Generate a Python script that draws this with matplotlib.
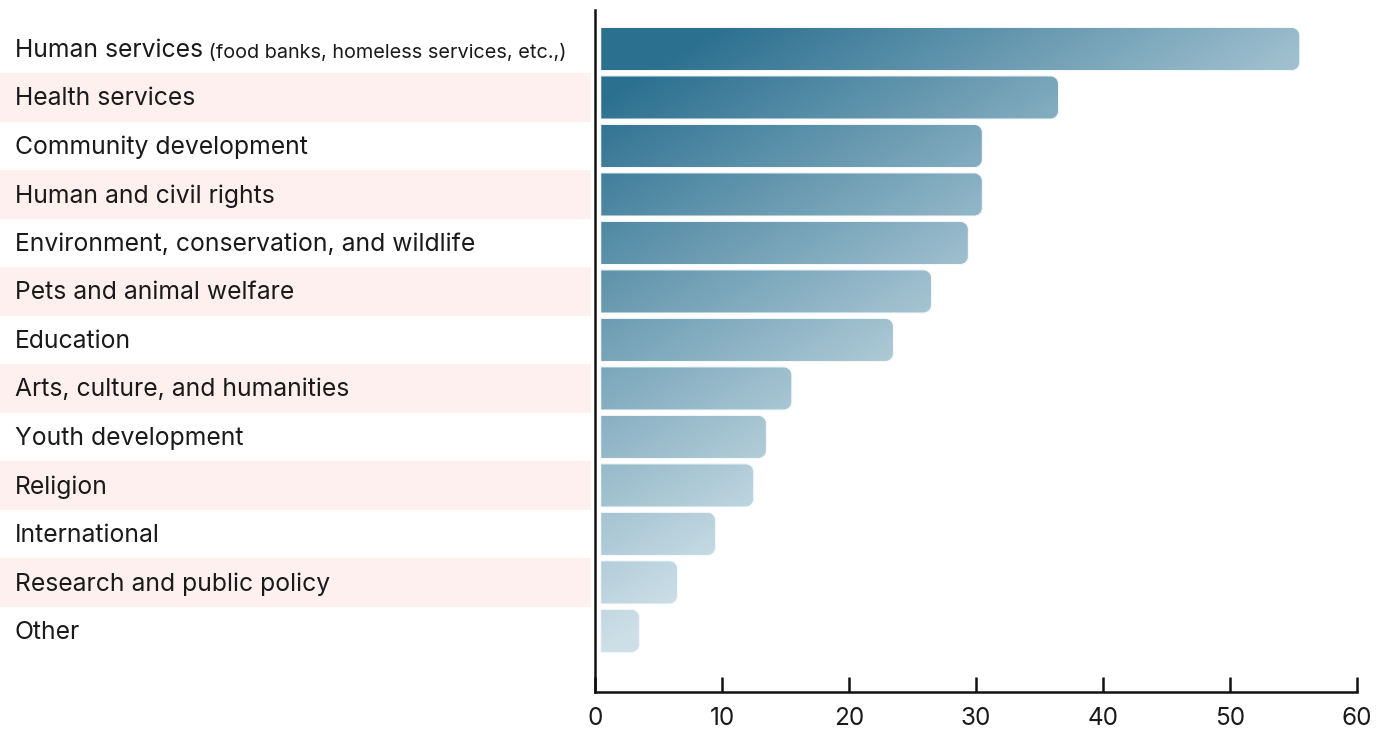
import numpy as np
import matplotlib
matplotlib.use("Agg")
import matplotlib.pyplot as plt
from matplotlib.path import Path
from matplotlib.patches import PathPatch, Rectangle
from matplotlib.transforms import blended_transform_factory
from matplotlib.colors import to_rgb

plt.rcParams['font.family'] = ['Inter', 'DejaVu Sans']

categories = ["Human services", "Health services", "Community development",
              "Human and civil rights", "Environment, conservation, and wildlife",
              "Pets and animal welfare", "Education", "Arts, culture, and humanities",
              "Youth development", "Religion", "International",
              "Research and public policy", "Other"]
sub_note = "(food banks, homeless services, etc.,)"
values = [55.5, 36.5, 30.5, 30.5, 29.4, 26.5, 23.5, 15.5, 13.5, 12.5, 9.5, 6.5, 3.5]
xticks = [0, 10, 20, 30, 40, 50, 60]

W, H = 1385, 732
fig = plt.figure(figsize=(W / 100, H / 100), dpi=100)
ax = fig.add_axes([595 / W, 1 - 692 / H, (1357 - 595) / W, (692 - 10) / H])

n = len(categories)
ylo, yhi = 13.26, -0.804
ax.set_xlim(0, 60)
ax.set_ylim(ylo, yhi)

dark = np.array(to_rgb("#2c7090"))
light = np.array(to_rgb("#cddfe7"))

px_x = (1357 - 595) / 60.0
px_y = (692 - 10) / (ylo - yhi)
r = 8.0
rx, ry = r / px_x, r / px_y
k = 0.5523
bar_h = 0.89
x0 = 0.45

def bar_path(x0, x1, yc, h):
    y0, y1 = yc - h / 2, yc + h / 2
    verts = [(x0, y0), (x1 - rx, y0),
             (x1 - rx + k * rx, y0), (x1, y0 + ry - k * ry), (x1, y0 + ry),
             (x1, y1 - ry),
             (x1, y1 - ry + k * ry), (x1 - rx + k * rx, y1), (x1 - rx, y1),
             (x0, y1), (x0, y0)]
    codes = [Path.MOVETO, Path.LINETO,
             Path.CURVE4, Path.CURVE4, Path.CURVE4,
             Path.LINETO,
             Path.CURVE4, Path.CURVE4, Path.CURVE4,
             Path.LINETO, Path.CLOSEPOLY]
    return Path(verts, codes)

blend = blended_transform_factory(fig.transFigure, ax.transData)

for i, (cat, v) in enumerate(zip(categories, values)):
    if i % 2 == 1:
        rect = Rectangle((0, i - 0.5), 591 / W, 1.0, transform=blend,
                         facecolor="#fff0f0", edgecolor="none", clip_on=False, zorder=0)
        fig.add_artist(rect)
    t1 = ax.text(15 / W, i + 0.03, cat, transform=blend, fontsize=17.8, va="center",
                 ha="left", color="#1a1a1a")
    if i == 0:
        ax.annotate(" " + sub_note, xy=(1, 0), xycoords=t1, fontsize=14.3,
                    va="bottom", ha="left", color="#1a1a1a")

    path = bar_path(x0, v, i, bar_h)
    patch = PathPatch(path, facecolor="none", edgecolor="#f4f8fa", lw=0.8, zorder=3)
    ax.add_patch(patch)
    xs = np.linspace(x0, v, 300)
    ys = np.linspace(i - bar_h / 2, i + bar_h / 2, 40)
    X, Y = np.meshgrid(xs, ys)
    t = np.clip(-0.1 + 0.0145 * X + 0.088 * Y, 0, 1)
    img = dark[None, None, :] * (1 - t[..., None]) + light[None, None, :] * t[..., None]
    im = ax.imshow(img, extent=(x0, v, i + bar_h / 2, i - bar_h / 2), aspect="auto",
                   origin="upper", interpolation="bilinear", zorder=2)
    im.set_clip_path(patch)

ax.set_xlim(0, 60)
ax.set_ylim(ylo, yhi)

for s in ["top", "right"]:
    ax.spines[s].set_visible(False)
for s in ["left", "bottom"]:
    ax.spines[s].set_linewidth(1.8)
    ax.spines[s].set_color("#111111")
ax.set_yticks([])
ax.set_xticks(xticks)
ax.set_xticklabels([str(x) for x in xticks])
ax.tick_params(axis="x", direction="in", length=11, width=1.8, color="#111111",
               labelsize=17.5, pad=11, labelcolor="#1a1a1a")
ax.patch.set_alpha(0)

fig.savefig("out.png", dpi=100)
